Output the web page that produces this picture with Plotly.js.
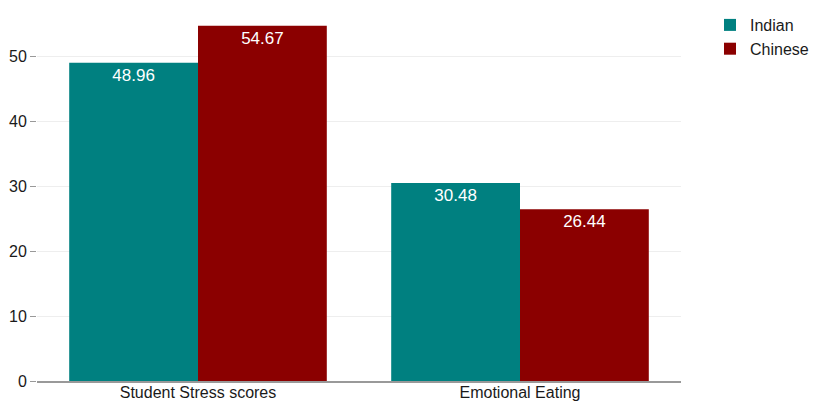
<!DOCTYPE html>
<html>
<head>
<meta charset="utf-8">
<script src="https://cdn.plot.ly/plotly-3.0.1.min.js"></script>
<style>html,body{margin:0;padding:0;background:#fff;}#chart{width:824px;height:401px;}</style>
</head>
<body>
<div id="chart"></div>
<script>
const categories = ["Student Stress scores", "Emotional Eating"];
const indianValues = [48.96, 30.48];
const chineseValues = [54.67, 26.44];
const seriesNames = ["Indian", "Chinese"];
const yTicks = [0, 10, 20, 30, 40, 50];

const fontFam = "Liberation Sans, Arial, sans-serif";
const traces = [
  {type: "bar", name: seriesNames[0], x: categories, y: indianValues,
   marker: {color: "#008080"}, text: indianValues.map(v => v.toFixed(2)),
   textposition: "inside", insidetextanchor: "end",
   textfont: {color: "#ffffff", size: 17, family: fontFam}},
  {type: "bar", name: seriesNames[1], x: categories, y: chineseValues,
   marker: {color: "#8B0000"}, text: chineseValues.map(v => v.toFixed(2)),
   textposition: "inside", insidetextanchor: "end",
   textfont: {color: "#ffffff", size: 17, family: fontFam}}
];
const layout = {
  width: 824, height: 401,
  margin: {l: 37, r: 143, t: 8, b: 20, pad: 0},
  paper_bgcolor: "#ffffff", plot_bgcolor: "#ffffff",
  font: {family: fontFam, size: 16, color: "#1a1a1a"},
  barmode: "group", bargap: 0.2, bargroupgap: 0,
  showlegend: true,
  legend: {x: 1.045, y: 1, xanchor: "left", yanchor: "top", font: {size: 16, color: "#1a1a1a"}},
  xaxis: {showgrid: false, showline: true, linecolor: "#999", linewidth: 2, ticks: "", ticklabelstandoff: -4, tickfont: {size: 16}},
  yaxis: {range: [0, 57.4], tickvals: yTicks, showgrid: true, gridcolor: "#eeeeee", zeroline: false,
          ticks: "outside", ticklen: 6, tickcolor: "#999", tickfont: {size: 16}}
};
Plotly.newPlot("chart", traces, layout, {displayModeBar: false, staticPlot: true});
</script>
</body>
</html>
